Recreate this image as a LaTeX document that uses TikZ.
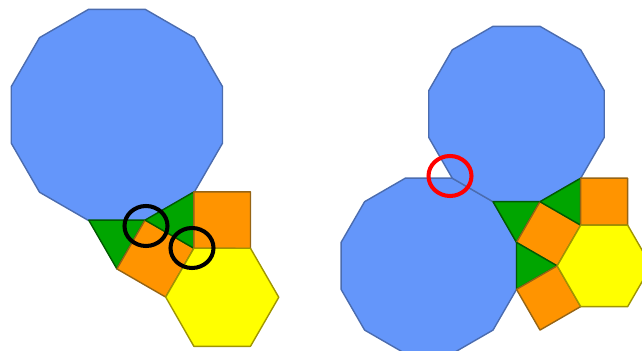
\documentclass[tikz,border=0pt]{standalone}
\usepackage{tikz}
\usetikzlibrary{calc}
\definecolor{dodblue}{RGB}{100,150,250}
\definecolor{dodedge}{RGB}{75,108,175}
\definecolor{trigreen}{RGB}{0,165,0}
\definecolor{triedge}{RGB}{0,90,0}
\definecolor{sqorange}{RGB}{255,148,0}
\definecolor{sqedge}{RGB}{150,100,20}
\definecolor{hexyellow}{RGB}{255,255,0}
\definecolor{hexedge}{RGB}{160,150,0}
\definecolor{ringred}{RGB}{255,0,0}

\begin{document}
\begin{tikzpicture}[
  x=0.02cm,y=0.02cm,
  dodeca/.style={fill=dodblue,draw=dodedge,line width=0.8pt,line join=round},
  tri/.style={fill=trigreen,draw=triedge,line width=0.8pt,line join=round},
  sq/.style={fill=sqorange,draw=sqedge,line width=0.8pt,line join=round},
  hexa/.style={fill=hexyellow,draw=hexedge,line width=0.8pt,line join=round},
  ring/.style={line width=2.3pt},
]
  \useasboundingbox (0,0) rectangle (642,351);
  \clip (0,0) rectangle (642,351);

  % Left: one dodecagon
  \begin{scope}[shift={(88.7,130.9)},scale=56.6]
    \coordinate (lP) at (0,0);
    \coordinate (lQ) at (1,0);
    \coordinate (lT) at (0.5,-0.866);
    \coordinate (lM) at (1.366,-1.366);
    \coordinate (lS) at (1.866,-0.5);
    \coordinate (lD) at (1.866,0.5);
    \coordinate (lC) at (0.5,1.866);
    \draw[dodeca] (lC) +(15:1.9319) \foreach \a in {45,75,...,345} { -- +(\a:1.9319)} -- cycle;
    \draw[tri] (lP) -- (lQ) -- (lT) -- cycle;
    \draw[sq] (lQ) -- (lS) -- (lM) -- (lT) -- cycle;
    \draw[tri] (lQ) -- (lD) -- (lS) -- cycle;
    \draw[sq] (lD) -- ++(1,0) -- ++(0,-1) -- (lS) -- cycle;
    \draw[hexa] (lS) -- ++(0:1) -- ++(-60:1) -- ++(-120:1) -- ++(180:1) -- (lM) -- cycle;
  \end{scope}

  % Left: marked vertices
  \draw[ring,black] (146,125) ellipse [x radius=21.5,y radius=20];
  \draw[ring,black] (192,103) ellipse [x radius=21.5,y radius=20];

  % Right: two dodecagons
  \begin{scope}[shift={(493,149.3)},scale=47]
    \coordinate (rP) at (0,0);
    \coordinate (rQ) at (1,0);
    \coordinate (rT) at (0.5,-0.866);
    \coordinate (rM) at (1.366,-1.366);
    \coordinate (rS) at (1.866,-0.5);
    \coordinate (rD) at (1.866,0.5);
    \coordinate (rL) at (0.5,-1.866);
    \coordinate (rC) at (0.5,1.866);
    \coordinate (rC2) at (-1.366,-1.366);
    \draw[dodeca] (rC2) +(15:1.9319) \foreach \a in {45,75,...,345} { -- +(\a:1.9319)} -- cycle;
    \draw[dodeca] (rC) +(15:1.9319) \foreach \a in {45,75,...,345} { -- +(\a:1.9319)} -- cycle;
    \draw[tri] (rP) -- (rQ) -- (rT) -- cycle;
    \draw[sq] (rQ) -- (rS) -- (rM) -- (rT) -- cycle;
    \draw[tri] (rQ) -- (rD) -- (rS) -- cycle;
    \draw[sq] (rD) -- ++(1,0) -- ++(0,-1) -- (rS) -- cycle;
    \draw[tri] (rT) -- (rM) -- (rL) -- cycle;
    \draw[sq] (rL) -- (rM) -- ++(300:1) -- ($(rL)+(300:1)$) -- cycle;
    \draw[hexa] (rS) -- ++(0:1) -- ++(-60:1) -- ++(-120:1) -- ++(180:1) -- (rM) -- cycle;
  \end{scope}

  % Right: gap between the dodecagons
  \draw[ring,ringred] (450,175) ellipse [x radius=21.5,y radius=20];
\end{tikzpicture}
\end{document}
